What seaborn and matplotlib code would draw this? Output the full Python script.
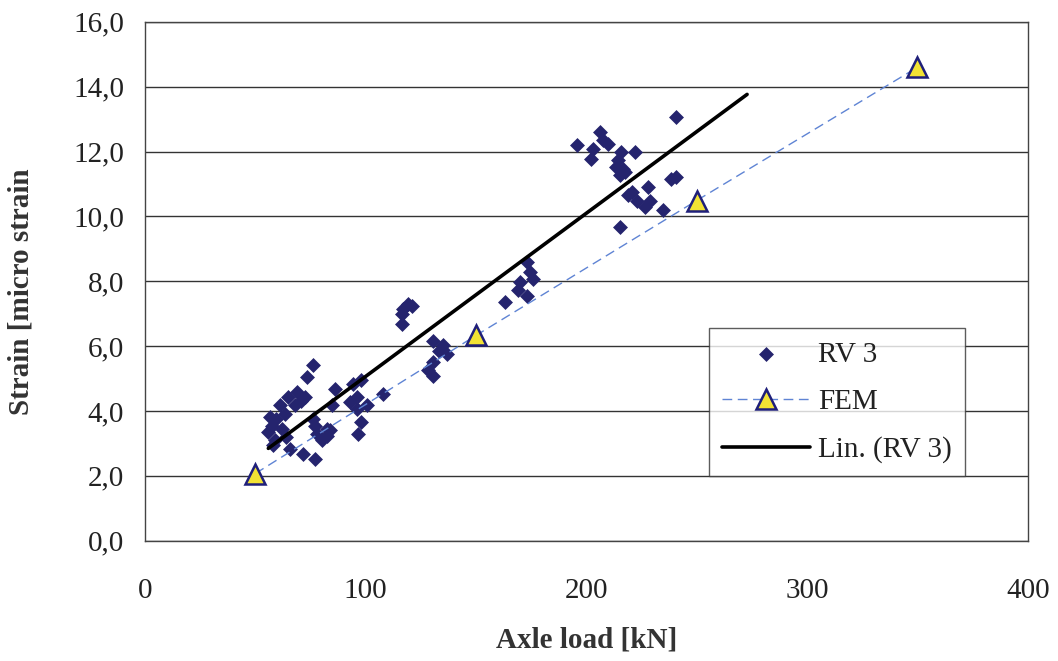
import numpy as np
import pandas as pd
import matplotlib
matplotlib.use("Agg")
import matplotlib.pyplot as plt
import seaborn as sns

# Measured strain vs axle load (RV 3)
rv3_load = [76.3, 73.2, 68.7, 72.5, 64.9, 61.2, 68.0, 70.5, 56.6, 63.4, 59.5, 76.3,
            55.9, 61.9, 57.5, 77.8, 82.3, 58.9, 64.0, 65.7, 80.0, 71.7, 77.0, 58.0,
            77.0, 86.1, 94.4, 98.1, 92.9, 95.9, 95.9, 100.4, 108.0, 98.1, 96.6, 83.8,
            84.6, 82.5,
            119.3, 117.0, 120.8, 116.3, 116.3,
            130.6, 135.1, 136.7, 130.6, 128.3, 130.6, 133.0,
            172.9, 176.0, 169.9, 169.1, 172.9, 163.1, 174.5,
            240.8, 206.1, 195.6, 203.1, 209.9, 207.5, 202.3, 215.9, 221.9, 214.4,
            213.6, 215.2, 217.4, 216.7, 240.8, 238.5, 228.0, 219.0, 222.7, 226.5,
            228.8, 234.8, 215.2, 220.5]
rv3_strain = [5.43, 5.06, 4.58, 4.42, 4.42, 4.17, 4.17, 4.30, 3.81, 3.91, 3.75, 3.76,
              3.34, 3.45, 3.55, 3.29, 3.24, 3.09, 3.20, 2.83, 3.09, 2.67, 2.52, 2.95,
              3.55, 4.68, 4.84, 4.94, 4.27, 4.42, 4.06, 4.17, 4.53, 3.65, 3.29, 3.40,
              4.17, 3.45,
              7.31, 7.15, 7.25, 7.00, 6.69,
              6.17, 6.02, 5.76, 5.50, 5.25, 5.09, 5.85,
              8.59, 8.08, 7.97, 7.72, 7.56, 7.36, 8.30,
              13.05, 12.60, 12.21, 12.09, 12.24, 12.35, 11.78, 11.99, 11.99, 11.73,
              11.52, 11.27, 11.37, 11.45, 11.21, 11.15, 10.90, 10.65, 10.49, 10.29,
              10.49, 10.19, 9.67, 10.75]

# Finite element model results
fem_load = [50, 150, 250, 350]
fem_strain = [2.07, 6.33, 10.49, 14.6]

x_ticks = [0, 100, 200, 300, 400]
y_ticks = [0, 2, 4, 6, 8, 10, 12, 14, 16]

# Linear trendline of RV 3, projected forward
FORECAST = 32
slope, intercept = np.polyfit(rv3_load, rv3_strain, 1)
trend_x = np.array([min(rv3_load), max(rv3_load) + FORECAST])
trend = pd.DataFrame({"load": trend_x, "strain": slope * trend_x + intercept})

rv3 = pd.DataFrame({"load": rv3_load, "strain": rv3_strain})
fem = pd.DataFrame({"load": fem_load, "strain": fem_strain})

sns.set_theme(style="white")
plt.rcParams["font.family"] = ["Liberation Serif", "DejaVu Serif"]

fig = plt.figure(figsize=(10.58, 6.61), dpi=100)
ax = fig.add_axes([0.137, 0.182, 0.8345, 0.785])

navy = "#25246e"
sns.scatterplot(data=rv3, x="load", y="strain", ax=ax, marker="D", s=58,
                color=navy, edgecolor=navy, linewidth=0, label="RV 3", zorder=3)
sns.lineplot(data=fem, x="load", y="strain", ax=ax, color="#5f84d4",
             linewidth=1.0, linestyle="--", marker="^",
             markersize=15, markerfacecolor="#f2e234", markeredgecolor="#1f1f7a",
             markeredgewidth=1.8, label="FEM", zorder=4)
ax.lines[-1].set_dashes((7, 4))
sns.lineplot(data=trend, x="load", y="strain", ax=ax, color="black",
             linewidth=2.6, label="Lin. (RV 3)", zorder=5)

ax.set_xlim(0, 400)
ax.set_ylim(0, 16)
ax.set_xticks(x_ticks)
ax.set_yticks(y_ticks)
ax.set_xticklabels([str(v) for v in x_ticks])
ax.set_yticklabels([f"{v:.1f}".replace(".", ",") for v in y_ticks])
ax.tick_params(axis="both", labelsize=21, colors="#222222", length=6,
               width=1, direction="out", pad=9)
ax.tick_params(axis="x", length=0, pad=27)
ax.yaxis.grid(True, color="#333333", linewidth=1.0)
ax.xaxis.grid(False)
for sp in ax.spines.values():
    sp.set_color("#444444")
    sp.set_linewidth(1.0)

ax.set_xlabel("Axle load [kN]", fontsize=21, fontweight="bold", color="#333333")
ax.set_ylabel("Strain [micro strain", fontsize=21, fontweight="bold", color="#333333")
ax.xaxis.set_label_coords(0.5, -0.165)
ax.yaxis.set_label_coords(-0.125, 0.48)

leg = ax.legend(loc="upper left", bbox_to_anchor=(0.639, 0.409), fontsize=21,
                frameon=True, fancybox=False, edgecolor="#333333",
                handlelength=3.0, handletextpad=0.3, borderpad=0.45,
                labelspacing=0.72, borderaxespad=0)
leg.get_frame().set_linewidth(1.0)
for t in leg.get_texts():
    t.set_color("#222222")

fig.savefig("out.png", dpi=100, facecolor="white")
